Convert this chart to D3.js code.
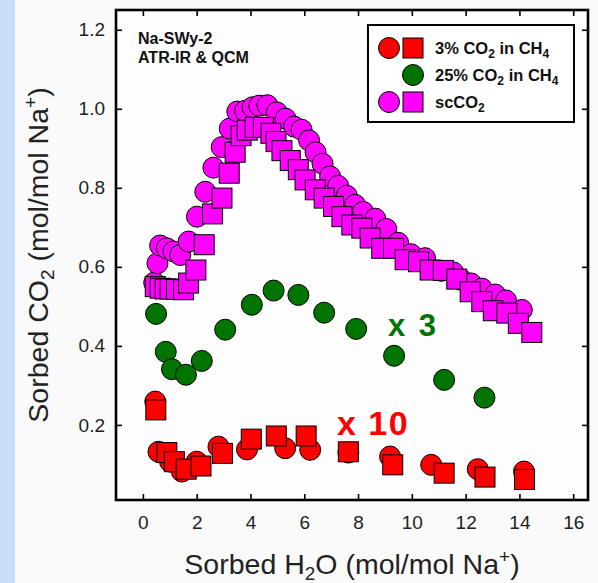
<!DOCTYPE html>
<html>
<head>
<meta charset="utf-8">
<script src="https://cdn.jsdelivr.net/npm/d3@7"></script>
<style>
  body { margin: 0; background: #fafafa; }
  svg { display: block; }
</style>
</head>
<body>
<div id="chart"></div>
<script>
// Data: [sorbed H2O, sorbed CO2]
const redCircles = [
  [0.46, 0.259], [0.58, 0.132], [1.01, 0.107], [1.45, 0.082], [2.0, 0.107],
  [2.81, 0.145], [3.87, 0.138], [5.29, 0.141], [6.22, 0.137], [7.64, 0.130],
  [9.19, 0.120], [10.72, 0.099], [12.45, 0.088], [14.17, 0.082]
];
const redSquares = [
  [0.48, 0.238], [0.89, 0.130], [1.17, 0.107], [1.61, 0.088], [2.16, 0.096],
  [2.96, 0.128], [4.03, 0.164], [4.96, 0.172], [6.07, 0.172], [7.64, 0.132],
  [9.29, 0.099], [11.2, 0.078], [12.72, 0.068], [14.19, 0.062]
];
const greenCircles = [
  [0.49, 0.481], [0.85, 0.385], [1.08, 0.341], [1.60, 0.327], [2.19, 0.362],
  [3.06, 0.441], [4.05, 0.504], [4.86, 0.540], [5.78, 0.529], [6.74, 0.484],
  [7.93, 0.443], [9.34, 0.375], [11.2, 0.314], [12.7, 0.269]
];
const magCircles = [
  [0.42, 0.56], [0.54, 0.609], [0.64, 0.654], [0.89, 0.647], [1.14, 0.639],
  [1.39, 0.630], [1.70, 0.664], [2.01, 0.727], [2.32, 0.790], [2.62, 0.851],
  [2.93, 0.903], [3.23, 0.950], [3.51, 0.993], [3.80, 0.995], [4.08, 1.004],
  [4.33, 1.008], [4.63, 1.009], [4.98, 0.991], [5.30, 0.975], [5.62, 0.955],
  [5.90, 0.947], [6.18, 0.920], [6.42, 0.890], [6.68, 0.861], [6.96, 0.829],
  [7.26, 0.805], [7.58, 0.780], [7.89, 0.757], [8.19, 0.739], [8.64, 0.722],
  [9.05, 0.696], [9.49, 0.661], [9.97, 0.632], [10.49, 0.622], [11.1, 0.590],
  [11.54, 0.586], [11.85, 0.567], [12.2, 0.558], [12.6, 0.545], [13.1, 0.530],
  [13.5, 0.515], [14.09, 0.491]
];
const magSquares = [
  [0.46, 0.550], [0.64, 0.546], [0.83, 0.544], [1.01, 0.544], [1.25, 0.543],
  [1.51, 0.542], [1.70, 0.559], [1.97, 0.592], [2.28, 0.656], [2.59, 0.734],
  [2.94, 0.774], [3.21, 0.837], [3.43, 0.890], [3.65, 0.932], [3.88, 0.946],
  [4.17, 0.953], [4.48, 0.953], [4.76, 0.938], [4.95, 0.917], [5.17, 0.894],
  [5.48, 0.869], [5.78, 0.846], [6.03, 0.820], [6.41, 0.795], [6.74, 0.774],
  [7.09, 0.753], [7.40, 0.727], [7.77, 0.706], [8.14, 0.698], [8.45, 0.673],
  [8.88, 0.647], [9.32, 0.647], [9.75, 0.618], [10.25, 0.613], [10.68, 0.592],
  [11.17, 0.591], [11.67, 0.569], [12.17, 0.537], [12.6, 0.512], [13.03, 0.489],
  [13.53, 0.483], [13.96, 0.457], [14.46, 0.434]
];
const xTicks = [0, 2, 4, 6, 8, 10, 12, 14, 16];
const yTicks = [0.2, 0.4, 0.6, 0.8, 1.0, 1.2];

const width = 598, height = 583;
const margin = { top: 10, right: 10, bottom: 83, left: 116 };
const plotW = width - margin.left - margin.right;
const plotH = height - margin.top - margin.bottom;

const RED = "#ff0000", GREEN = "#007400", MAG = "#ff00ff";
const R = 10.5, SQ = 20;
const font = "'Liberation Sans', Arial, sans-serif";

const svg = d3.select("#chart").append("svg")
  .attr("width", width)
  .attr("height", height)
  .style("font-family", font);

// background: pale blue strip on the left
svg.append("rect").attr("width", width).attr("height", height).attr("fill", "#fafafa");
svg.append("rect").attr("width", 15).attr("height", height).attr("fill", "#c6dff8");

const g = svg.append("g")
  .attr("transform", `translate(${margin.left},${margin.top})`);

const x = d3.scaleLinear().domain([-1, 16.55]).range([0, plotW]);
const y = d3.scaleLinear().domain([0.01, 1.25]).range([plotH, 0]);

g.append("rect").attr("width", plotW).attr("height", plotH).attr("fill", "#fdfdfd");

// axes with inward ticks on all four sides
g.append("g").attr("transform", `translate(0,${plotH})`)
  .call(d3.axisBottom(x).tickValues(xTicks).tickSize(-6).tickSizeOuter(0).tickPadding(16));
g.append("g")
  .call(d3.axisLeft(y).tickValues(yTicks).tickFormat(d3.format(".1f")).tickSize(-6).tickSizeOuter(0).tickPadding(11));
g.append("g")
  .call(d3.axisTop(x).tickValues(xTicks).tickFormat("").tickSize(-6).tickSizeOuter(0));
g.append("g").attr("transform", `translate(${plotW},0)`)
  .call(d3.axisRight(y).tickValues(yTicks).tickFormat("").tickSize(-6).tickSizeOuter(0));

g.selectAll(".domain").remove();
g.selectAll(".tick line").attr("stroke", "#000").attr("stroke-width", 1.6);
g.selectAll(".tick text").attr("font-size", 19).attr("fill", "#222").attr("font-family", font);

g.append("rect").attr("width", plotW).attr("height", plotH)
  .attr("fill", "none").attr("stroke", "#000").attr("stroke-width", 2.6);

// markers
function circles(data, color) {
  g.append("g").selectAll("circle").data(data).join("circle")
    .attr("cx", d => x(d[0])).attr("cy", d => y(d[1])).attr("r", R)
    .attr("fill", color).attr("stroke", "#000").attr("stroke-width", 1);
}
function squares(data, color) {
  g.append("g").selectAll("rect").data(data).join("rect")
    .attr("x", d => x(d[0]) - SQ / 2).attr("y", d => y(d[1]) - SQ / 2)
    .attr("width", SQ).attr("height", SQ)
    .attr("fill", color).attr("stroke", "#000").attr("stroke-width", 1);
}
circles(greenCircles, GREEN);
circles(redCircles, RED);
squares(redSquares, RED);
circles(magCircles, MAG);
squares(magSquares, MAG);

// multiplier labels
svg.append("text").attr("x", 388).attr("y", 336)
  .attr("font-size", 31).attr("font-weight", "bold").attr("fill", GREEN)
  .attr("letter-spacing", 2.5).attr("xml:space", "preserve").text("x 3");
svg.append("text").attr("x", 337).attr("y", 435)
  .attr("font-size", 34).attr("font-weight", "bold").attr("fill", RED)
  .attr("letter-spacing", 1.5).attr("xml:space", "preserve").text("x 10");

// sample label
svg.append("text").attr("x", 138).attr("y", 44)
  .attr("font-size", 16).attr("font-weight", "bold").attr("fill", "#111")
  .text("Na-SWy-2");
svg.append("text").attr("x", 138).attr("y", 63)
  .attr("font-size", 16).attr("font-weight", "bold").attr("fill", "#111")
  .text("ATR-IR & QCM");

// legend
const leg = svg.append("g");
leg.append("rect").attr("x", 368).attr("y", 25).attr("width", 206).attr("height", 97)
  .attr("fill", "#fff").attr("stroke", "#000").attr("stroke-width", 2);
const legendItems = [
  { color: RED, circle: true, square: true, parts: [["3% CO", 0], ["2", 1], [" in CH", 0], ["4", 1]] },
  { color: GREEN, circle: false, square: false, parts: [["25% CO", 0], ["2", 1], [" in CH", 0], ["4", 1]] },
  { color: MAG, circle: true, square: true, parts: [["scCO", 0], ["2", 1]] }
];
legendItems.forEach((it, i) => {
  const cy = 48 + i * 27;
  if (it.circle) {
    leg.append("circle").attr("cx", 389).attr("cy", cy).attr("r", R)
      .attr("fill", it.color).attr("stroke", "#000");
  }
  if (it.square) {
    leg.append("rect").attr("x", 413 - SQ / 2).attr("y", cy - SQ / 2).attr("width", SQ).attr("height", SQ)
      .attr("fill", it.color).attr("stroke", "#000");
  } else {
    leg.append("circle").attr("cx", 413).attr("cy", cy).attr("r", R)
      .attr("fill", it.color).attr("stroke", "#000");
  }
  const t = leg.append("text").attr("x", 435).attr("y", cy + 6)
    .attr("font-size", 16.5).attr("font-weight", "bold").attr("fill", "#111")
    .attr("xml:space", "preserve");
  it.parts.forEach(p => {
    const s = t.append("tspan").text(p[0]);
    if (p[1]) s.attr("font-size", 12).attr("dy", 4);
    else s.attr("dy", t.selectAll("tspan").size() > 1 ? -4 : 0);
  });
});

// axis titles
const xt = svg.append("text").attr("x", margin.left + plotW / 2).attr("y", 574)
  .attr("text-anchor", "middle").attr("font-size", 28.5).attr("fill", "#222")
  .attr("xml:space", "preserve");
xt.append("tspan").text("Sorbed H");
xt.append("tspan").text("2").attr("font-size", 19).attr("dy", 6);
xt.append("tspan").text("O (mol/mol Na").attr("dy", -6);
xt.append("tspan").text("+").attr("font-size", 19).attr("dy", -11);
xt.append("tspan").text(")").attr("dy", 11);

const yt = svg.append("text")
  .attr("transform", `translate(48,${margin.top + plotH / 2}) rotate(-90)`)
  .attr("text-anchor", "middle").attr("font-size", 28.5).attr("fill", "#222")
  .attr("xml:space", "preserve");
yt.append("tspan").text("Sorbed CO");
yt.append("tspan").text("2").attr("font-size", 19).attr("dy", 6);
yt.append("tspan").text(" (mol/mol Na").attr("dy", -6);
yt.append("tspan").text("+").attr("font-size", 19).attr("dy", -11);
yt.append("tspan").text(")").attr("dy", 11);
</script>
</body>
</html>
